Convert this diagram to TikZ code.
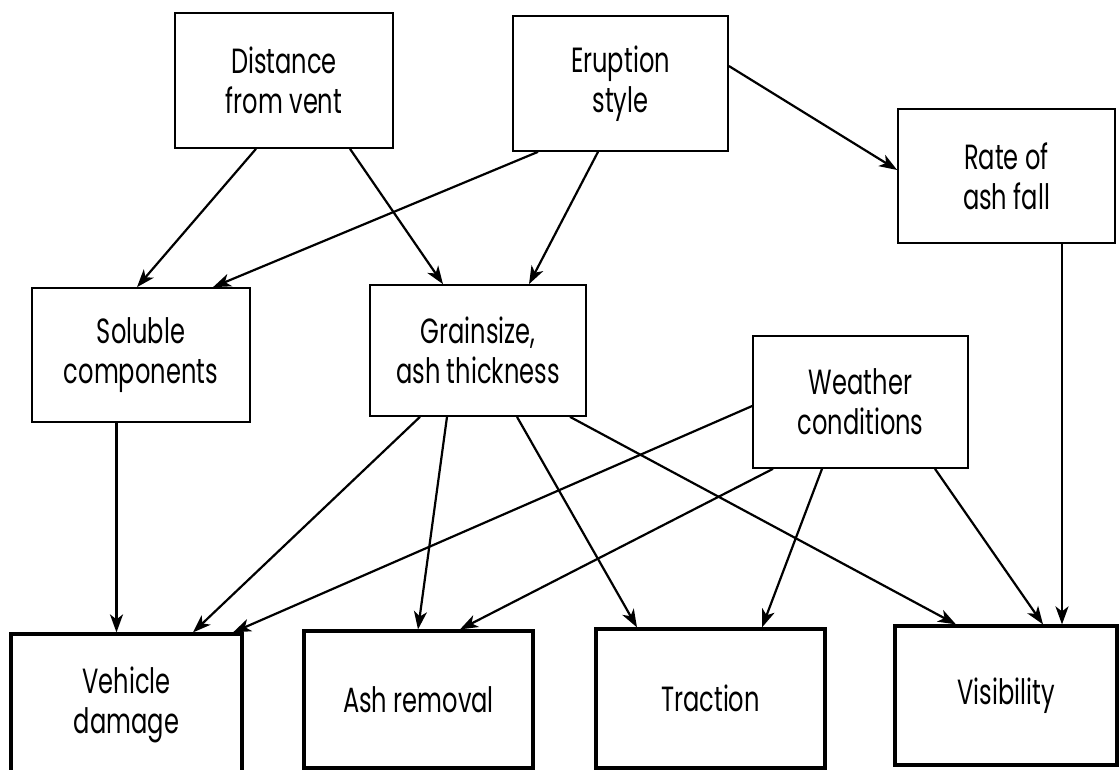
\documentclass[tikz,border=0pt]{standalone}
\usepackage{fontspec}
\setmainfont[FakeStretch=0.69]{Poppins}
\usetikzlibrary{arrows.meta}
\begin{document}
\begin{tikzpicture}[x=1pt,y=-1pt,
  box/.style={draw,line width=1.7pt,inner sep=0pt,align=center,
    font=\fontsize{35}{40}\selectfont},
  outbox/.style={box,line width=3.2pt},
  link/.style={line width=2.2pt,-{Stealth[length=18pt,width=13pt,inset=5pt]}}]
\useasboundingbox (0,0) rectangle (1119,770);
\fill[white] (0,0) rectangle (1119,770);
% upper boxes
\node[box,minimum width=218pt,minimum height=135pt] (dist) at (284,80.5) {Distance\\from vent};
\node[box,minimum width=215pt,minimum height=135pt] (erup) at (620.5,83.5) {Eruption\\style};
\node[box,minimum width=217pt,minimum height=134pt] (rate) at (1006.5,176) {Rate of\\ash fall};
\node[box,minimum width=218pt,minimum height=134pt] (sol) at (141,355) {Soluble\\components};
\node[box,minimum width=216pt,minimum height=131pt] (grain) at (478,350.5) {Grainsize,\\ash thickness};
\node[box,minimum width=215pt,minimum height=132pt] (weath) at (860.5,402) {Weather\\conditions};
% lower boxes
\node[outbox,minimum width=231pt,minimum height=142pt] (veh) at (126.5,705) {Vehicle\\damage};
\node[outbox,minimum width=229pt,minimum height=137pt] (ash) at (418.5,699.5) {Ash removal};
\node[outbox,minimum width=229pt,minimum height=139pt] (trac) at (710.5,698.5) {Traction};
\node[outbox,minimum width=222pt,minimum height=139pt] (vis) at (1006,695.5) {Visibility};
% connectors
\draw[link] ([xshift=-28pt]dist.south) -- ([xshift=-4pt]sol.north);
\draw[link] ([xshift=66pt]dist.south) -- ([xshift=-35pt]grain.north);
\draw[link] ([xshift=-82.5pt]erup.south) -- ([xshift=72pt]sol.north);
\draw[link] ([xshift=-22.5pt]erup.south) -- ([xshift=51pt]grain.north);
\draw[link] ([yshift=17.5pt]erup.east) -- ([yshift=6pt]rate.west);
\draw[link] ([xshift=55.5pt]rate.south) -- ([xshift=56pt]vis.north);
\draw[link] ([xshift=-24.5pt]sol.south) -- ([xshift=-10pt]veh.north);
\draw[link] ([xshift=-58pt]grain.south) -- ([xshift=66.5pt]veh.north);
\draw[link] ([xshift=-31pt]grain.south) -- ([xshift=-0.5pt]ash.north);
\draw[link] ([xshift=39pt]grain.south) -- ([xshift=-73.5pt]trac.north);
\draw[link] ([xshift=92pt]grain.south) -- ([xshift=-50pt]vis.north);
\draw[link] ([yshift=-4pt]weath.west) -- ([xshift=106.5pt]veh.north);
\draw[link] ([xshift=-87.5pt]weath.south) -- ([xshift=41.5pt]ash.north);
\draw[link] ([xshift=-38.5pt]weath.south) -- ([xshift=51.5pt]trac.north);
\draw[link] ([xshift=74.5pt]weath.south) -- ([xshift=37pt]vis.north);
\end{tikzpicture}
\end{document}
